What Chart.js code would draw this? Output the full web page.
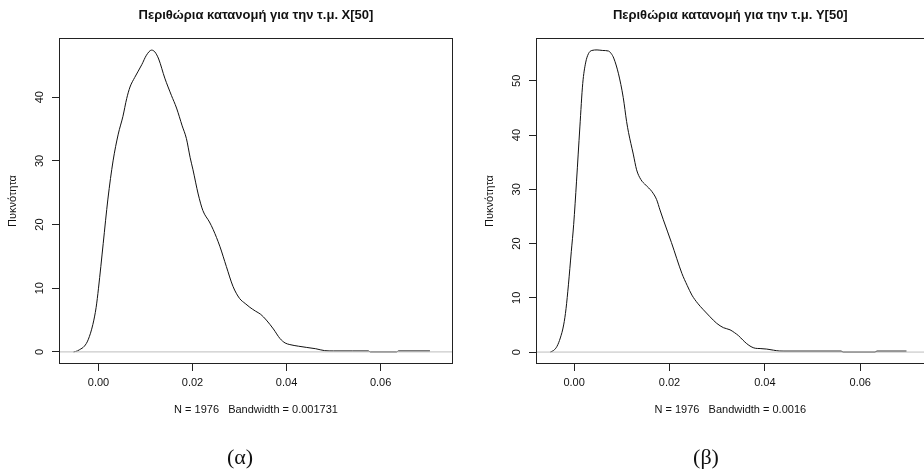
<!DOCTYPE html>
<html>
<head>
<meta charset="utf-8">
<script src="https://cdn.jsdelivr.net/npm/chart.js@4"></script>
<style>
  html, body { margin: 0; padding: 0; background: #fff; overflow: hidden; }
  #wrap { position: relative; width: 924px; height: 472px; overflow: hidden; background: #fff; }
  canvas { position: absolute; top: 0; }
  .cap { position: absolute; top: 444px; width: 60px; text-align: center; font-family: 'Liberation Serif', 'Times New Roman', serif; font-size: 22px; line-height: 26px; color: #111; }
</style>
</head>
<body>
<div id="wrap">
  <canvas id="cA" width="462" height="472" style="left:0px"></canvas>
  <canvas id="cB" width="452" height="472" style="left:477px"></canvas>
  <div class="cap" style="left:210px">(α)</div>
  <div class="cap" style="left:676px">(β)</div>
</div>
<script>
// ---- Data: panel (α), X[50]
const titleA = 'Περιθώρια κατανομή για την τ.μ. X[50]';
const xLabelA = 'N = 1976   Bandwidth = 0.001731';
const xGridA = [-0.0053,-0.0045,-0.0040,-0.0030,-0.0022,-0.0012,-0.0005,0.0000,0.0010,0.0020,0.0031,0.0042,0.0052,0.0060,0.0067,0.0077,0.0092,0.0102,0.0113,0.0120,0.0128,0.0141,0.0155,0.0166,0.0178,0.0187,0.0195,0.0201,0.0212,0.0222,0.0236,0.0244,0.0258,0.0272,0.0286,0.0300,0.0312,0.0322,0.0334,0.0345,0.0357,0.0372,0.0386,0.0397,0.0407,0.0425,0.0443,0.0462,0.0481,0.0500,0.0540,0.0574,0.0578,0.0634,0.0638,0.0705];
const densA  = [0.0,0.15,0.36,0.9,1.9,4.3,7.0,10.0,17.0,24.0,30.0,34.2,37.0,39.8,41.6,43.1,45.1,46.6,47.4,47.1,46.0,43.0,40.3,38.3,35.5,33.5,30.5,28.6,24.8,22.2,20.4,19.2,16.6,13.4,10.3,8.4,7.6,7.0,6.4,5.9,5.0,3.6,2.1,1.4,1.15,0.9,0.7,0.5,0.2,0.15,0.15,0.15,0.0,0.0,0.15,0.15];
const xTicksA = [0, 0.02, 0.04, 0.06];
const yTicksA = [0, 10, 20, 30, 40];
const xLimA = [-0.0084, 0.0754];
const yLimA = [-1.9, 49.3];

// ---- Data: panel (β), Y[50]
const titleB = 'Περιθώρια κατανομή για την τ.μ. Y[50]';
const xLabelB = 'N = 1976   Bandwidth = 0.0016';
const xGridB = [-0.0050,-0.0043,-0.0036,-0.0029,-0.0022,-0.0017,-0.0012,-0.0006,-0.0001,0.0005,0.0012,0.0018,0.0024,0.0030,0.0037,0.0048,0.0060,0.0072,0.0078,0.0083,0.0093,0.0103,0.0110,0.0114,0.0124,0.0131,0.0140,0.0150,0.0163,0.0173,0.0180,0.0187,0.0204,0.0226,0.0237,0.0247,0.0259,0.0271,0.0285,0.0299,0.0313,0.0327,0.0336,0.0345,0.0354,0.0362,0.0371,0.0380,0.0390,0.0404,0.0418,0.0430,0.0440,0.0560,0.0564,0.0631,0.0635,0.0697];
const densB  = [0.0,0.3,1.05,2.6,5.0,8.0,12.4,18.5,23.5,31.5,41.5,49.5,53.3,55.0,55.6,55.7,55.6,55.5,55.0,54.2,51.3,46.9,42.5,40.5,36.5,33.6,31.8,30.8,29.6,28.1,26.2,24.4,20.2,14.5,12.3,10.5,9.0,7.8,6.5,5.3,4.5,4.1,3.6,3.0,2.2,1.55,1.0,0.7,0.65,0.55,0.35,0.2,0.18,0.18,0.0,0.0,0.18,0.18];
const xTicksB = [0, 0.02, 0.04, 0.06];
const yTicksB = [0, 10, 20, 30, 40, 50];
const xLimB = [-0.008, 0.0735];
const yLimB = [-2.2, 57.9];

const yTitle = 'Πυκνότητα';

Chart.defaults.font.family = "'Liberation Sans', Arial, Helvetica, sans-serif";
Chart.defaults.color = '#111';

const boxPlugin = {
  id: 'rbox',
  afterDraw(chart) {
    const { ctx, chartArea: a } = chart;
    ctx.save();
    ctx.strokeStyle = '#222';
    ctx.lineWidth = 1;
    const l = Math.round(a.left) + 0.5, t = Math.round(a.top) + 0.5;
    const r = Math.round(a.right) - 0.5, b = Math.round(a.bottom) - 0.5;
    ctx.strokeRect(l, t, r - l, b - t);
    ctx.restore();
  }
};

function makeChart(id, title, xLabel, xs, ys, xTicks, yTicks, xLim, yLim, padRight) {
  const pts = xs.map((x, i) => ({ x: x, y: ys[i] }));
  return new Chart(document.getElementById(id), {
    type: 'line',
    data: {
      datasets: [
        { // zero line drawn on top (R: abline(h=0, col="gray"))
          data: [{ x: xLim[0], y: 0 }, { x: xLim[1], y: 0 }],
          borderColor: '#bebebe', borderWidth: 1, pointRadius: 0, fill: false
        },
        {
          data: pts,
          borderColor: '#111', borderWidth: 1, pointRadius: 0, fill: false,
          cubicInterpolationMode: 'monotone'
        }
      ]
    },
    options: {
      responsive: false,
      animation: false,
      events: [],
      layout: { padding: { left: 0, right: padRight, top: 0, bottom: 0 } },
      plugins: {
        legend: { display: false },
        tooltip: { enabled: false },
        title: {
          display: true, text: title, fullSize: false, color: '#111',
          font: { size: 13, weight: 'bold' },
          padding: { top: 7.2, bottom: 15.2 }
        }
      },
      scales: {
        x: {
          type: 'linear', min: xLim[0], max: xLim[1],
          afterFit: s => { s.height = 108; },
          afterBuildTicks: s => { s.ticks = xTicks.map(v => ({ value: v })); },
          border: { display: false },
          grid: { drawOnChartArea: false, drawTicks: true, tickLength: 7, color: '#222' },
          ticks: { autoSkip: false, maxRotation: 0, padding: 5.4, font: { size: 11 }, color: '#111',
                   callback: v => Number(v).toFixed(2) },
          title: { display: true, text: xLabel, font: { size: 11 }, color: '#111',
                   padding: { top: 0, bottom: 55.4 } }
        },
        y: {
          type: 'linear', min: yLim[0], max: yLim[1],
          afterFit: s => { s.width = 59; },
          afterBuildTicks: s => { s.ticks = yTicks.map(v => ({ value: v })); },
          border: { display: false },
          grid: { drawOnChartArea: false, drawTicks: true, tickLength: 7, color: '#222' },
          ticks: { minRotation: 90, maxRotation: 90, crossAlign: 'center', padding: 6,
                   font: { size: 11 }, color: '#111', callback: v => String(v) },
          title: { display: true, text: yTitle, font: { size: 11 }, color: '#111',
                   padding: { top: 6.4, bottom: 0 } }
        }
      }
    },
    plugins: [boxPlugin]
  });
}

makeChart('cA', titleA, xLabelA, xGridA, densA, xTicksA, yTicksA, xLimA, yLimA, 9);
makeChart('cB', titleB, xLabelB, xGridB, densB, xTicksB, yTicksB, xLimB, yLimB, 4.4);
</script>
</body>
</html>
